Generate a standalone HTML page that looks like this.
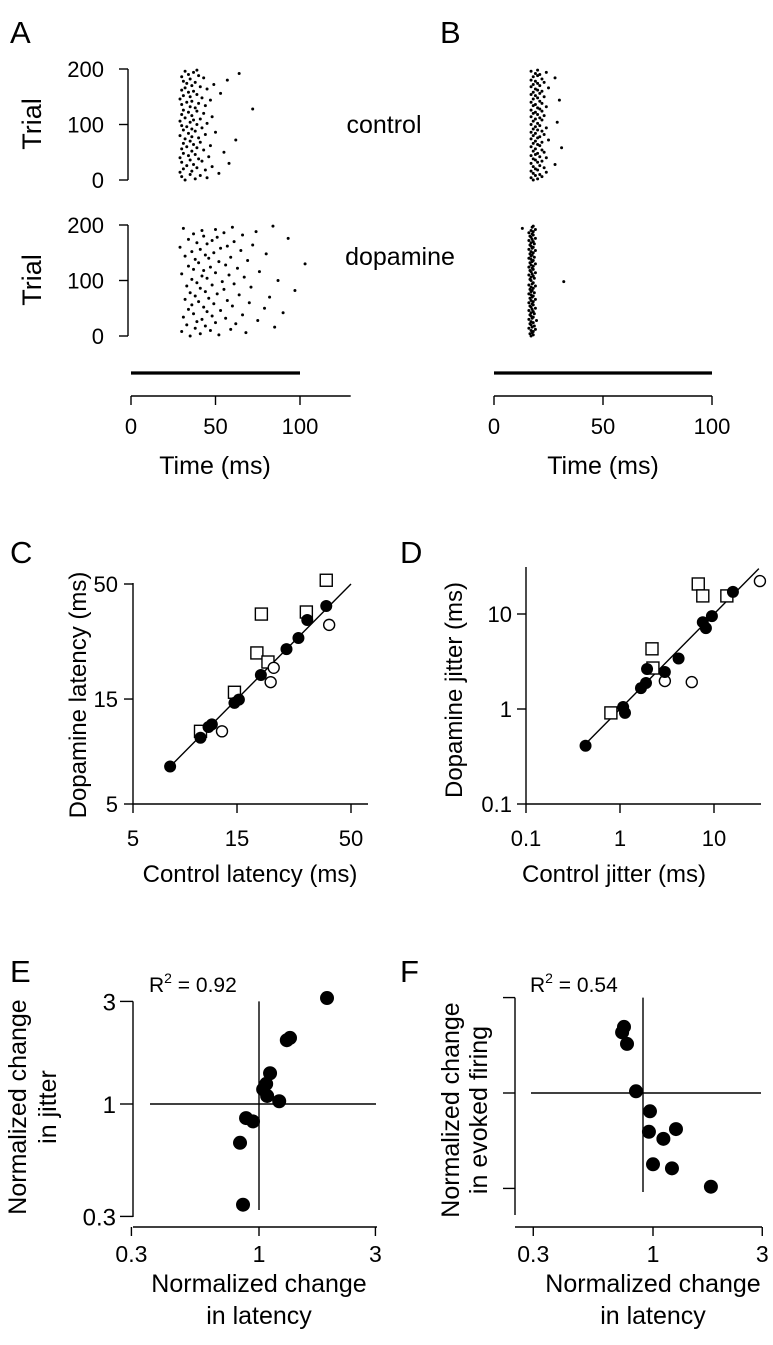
<!DOCTYPE html>
<html><head><meta charset="utf-8"><style>
html,body{margin:0;padding:0;background:#fff}
svg{display:block;font-family:"Liberation Sans",Arial,sans-serif}
</style></head><body>
<svg id="fig" width="773" height="1345" viewBox="0 0 773 1345" xmlns="http://www.w3.org/2000/svg">
<g id="static" fill="#000">
<text x="10" y="43" font-size="31">A</text>
<text x="440" y="43" font-size="31">B</text>
<text x="10" y="563" font-size="31">C</text>
<text x="400" y="563" font-size="31">D</text>
<text x="10" y="982" font-size="31">E</text>
<text x="400" y="982" font-size="31">F</text>
<text x="384" y="133" font-size="25" text-anchor="middle">control</text>
<text x="400" y="265" font-size="25" text-anchor="middle">dopamine</text>
<text transform="translate(41,124) rotate(-90)" font-size="27" text-anchor="middle">Trial</text>
<text transform="translate(41,280) rotate(-90)" font-size="27" text-anchor="middle">Trial</text>
<text x="215" y="474" font-size="25" text-anchor="middle">Time (ms)</text>
<text x="603" y="474" font-size="25" text-anchor="middle">Time (ms)</text>
<text transform="translate(86,695) rotate(-90)" font-size="24" text-anchor="middle">Dopamine latency (ms)</text>
<text x="250" y="882" font-size="24" text-anchor="middle">Control latency (ms)</text>
<text transform="translate(462,690) rotate(-90)" font-size="24" text-anchor="middle">Dopamine jitter (ms)</text>
<text x="614" y="882" font-size="24" text-anchor="middle">Control jitter (ms)</text>
<text transform="translate(26,1107) rotate(-90)" font-size="25" text-anchor="middle">Normalized change</text>
<text transform="translate(56,1107) rotate(-90)" font-size="25" text-anchor="middle">in jitter</text>
<text x="259" y="1292" font-size="25" text-anchor="middle">Normalized change</text>
<text x="259" y="1324" font-size="25" text-anchor="middle">in latency</text>
<text transform="translate(459,1110) rotate(-90)" font-size="25" text-anchor="middle">Normalized change</text>
<text transform="translate(487,1110) rotate(-90)" font-size="25" text-anchor="middle">in evoked firing</text>
<text x="653" y="1292" font-size="25" text-anchor="middle">Normalized change</text>
<text x="653" y="1324" font-size="25" text-anchor="middle">in latency</text>
<text x="149" y="992" font-size="21">R<tspan dy="-9" font-size="14">2</tspan><tspan dy="9"> = 0.92</tspan></text>
<text x="530" y="992" font-size="21">R<tspan dy="-9" font-size="14">2</tspan><tspan dy="9"> = 0.54</tspan></text>
</g>
<g id="dyn"></g>
</svg>
<script>
// ---- Raster data (spike times in ms; trial = 2*index) ----
const rasterAControl=[32,38,45,30,41,35,52,29,36,44,31,39,48,33,37,58,30,42,35,40,29,46,34,38,31,55,36,43,30,39,33,47,37,31,41,35,62,32,40,36,29,44,34,50,38,31,36,42,33,30,39,45,35,29,37,41,32,48,36,30,43,34,39,31,72,38,35,44,30,40,33,36,47,29,42,35,31,39,53,34,37,30,45,32,41,36,49,33,38,31,57,35,43,30,40,34,64,37,32,39];
const rasterADopamine=[35,52,41,68,30,47,59,38,85,44,33,62,50,39,75,42,56,31,48,66,37,90,45,53,34,79,43,60,36,49,70,40,57,32,46,82,38,64,51,35,44,97,55,41,71,33,48,61,39,54,87,36,45,67,42,58,30,50,76,43,37,63,47,34,56,103,40,52,69,38,46,59,32,44,80,49,36,65,41,53,29,57,72,45,39,61,48,34,93,51,43,66,37,55,74,42,50,31,60,84];
const rasterBControl=[18,20,17,22,19,21,18,24,17,20,19,23,18,21,28,17,20,22,19,18,24,21,17,19,20,23,18,22,19,31,17,21,20,18,22,19,25,17,20,21,18,23,19,17,22,20,18,24,19,21,17,20,29,18,22,19,21,17,23,20,18,19,22,17,21,20,24,18,19,22,17,21,30,18,20,23,19,17,21,18,22,20,19,25,17,21,18,20,23,19,17,22,28,18,20,21,19,24,17,20];
const rasterBDopamine=[17,18,16.5,17.5,18,17,19,16,17.5,18.5,17,16.5,18,17,19.5,16,17.5,18,17,16.5,18.5,17,18,16,17.5,19,17,16.5,18,17.5,16,18,17,19,16.5,17.5,18,17,16,18.5,17,17.5,16.5,18,17,19,16,17.5,18,32,17,16.5,18.5,17,18,16,17.5,19,17,16.5,18,17.5,16,18,17,19,16.5,17.5,18,17,16,18.5,17,17.5,16.5,18,17,19,16,17.5,18,17,16.5,18.5,17,18,16,17.5,19,17,16.5,18,17.5,16,18,17,19,13,17.5,18];
const trialTicks=[0,100,200];
const timeTicks=[0,50,100];

// ---- Panel C (control latency, dopamine latency) ----
const cFilledX=[7.4,10.2,11.1,11.5,14.6,15.3,19.3,25.3,28.7,31.5,38.5];
const cFilledY=[7.4,10.0,11.2,11.5,14.4,14.9,19.3,25.3,28.4,34.3,39.7];
const cOpenX=[12.8,22.1,21.4,39.7];
const cOpenY=[10.7,20.8,17.9,32.6];
const cSquareX=[10.2,14.6,19.4,18.5,20.8,31.2,38.5];
const cSquareY=[10.7,16.1,36.5,24.3,22.1,37.3,52];
const cTicks=[5,15,50];

// ---- Panel D (control jitter, dopamine jitter) ----
const dFilledX=[0.43,1.08,1.13,1.67,1.89,1.94,3.0,4.2,7.6,8.2,9.5,15.9];
const dFilledY=[0.41,1.05,0.91,1.66,1.88,2.64,2.45,3.4,8.2,7.1,9.5,17.1];
const dOpenX=[30.8,3.0,5.8];
const dOpenY=[22.2,1.97,1.92];
const dSquareX=[0.80,2.19,2.24,6.8,7.6,13.7];
const dSquareY=[0.91,4.3,2.70,20.7,15.5,15.5];
const dTicks=[0.1,1,10];

// ---- Panel E ----
const eLatency=[1.90,1.34,1.30,1.11,1.07,1.04,1.08,1.21,0.885,0.945,0.836,0.86];
const eJitter=[3.11,2.03,1.98,1.39,1.24,1.17,1.09,1.03,0.86,0.83,0.66,0.34];
const eYTicks=[0.3,1,3];
const xTicksEF=[0.3,1,3];

// ---- Panel F ----
const fLatency=[0.747,0.733,0.77,0.843,0.97,0.96,1.26,1.11,1.0,1.21,1.79];
const fFiring=[2.14,2.01,1.76,1.02,0.81,0.64,0.66,0.59,0.44,0.42,0.34];
const fYTicks=[1/3,1,3];

const NS='http://www.w3.org/2000/svg';
const root=document.getElementById('dyn');
function mk(tag,attrs,parent){const e=document.createElementNS(NS,tag);for(const k in attrs)e.setAttribute(k,attrs[k]);(parent||root).appendChild(e);return e;}
function line(x1,y1,x2,y2,w,name){const e=mk('line',{x1,y1,x2,y2,stroke:'#000','stroke-width':w||1.4});


return e;}
function txt(x,y,s,anchor,size,name){const e=mk('text',{x,y,'font-size':size||22,'text-anchor':anchor||'middle'});e.textContent=s;


return e;}
const lin=(d0,r0,k)=>v=>r0+(v-d0)*k;
const logS=(d0,r0,perDec)=>v=>r0+Math.log10(v/d0)*perDec;

// ===== Rasters =====
function raster(data,xs,y0){
  data.forEach((t,i)=>{const c=mk('circle',{cx:xs(t),cy:y0-0.555*(i*2),r:1.5,fill:'#000'});
  
  });
}
const xA=lin(0,131,1.69), xB=lin(0,494,2.18);
raster(rasterAControl,xA,180); raster(rasterADopamine,xA,336);
raster(rasterBControl,xB,180); raster(rasterBDopamine,xB,336);
[180,336].forEach(y0=>{
  line(128,y0-0.555*200,128,y0,1.4,'trial-axis');
  trialTicks.forEach(t=>{const y=y0-0.555*t;line(119,y,128,y,1.4,'trial-tick');txt(104,y+8,String(t),'end',22,'trial-tick-label');});
});
// stimulus bars & time axes
line(xA(0),373,xA(100),373,3.2,'stimulus-bar-a');
line(xB(0),373,xB(100),373,3.2,'stimulus-bar-b');
line(xA(0),396,xA(130),396,1.4,'time-axis-a');
line(xB(0),396,xB(100),396,1.4,'time-axis-b');
timeTicks.forEach(t=>{line(xA(t),396,xA(t),405,1.4,'time-tick');txt(xA(t),434,String(t),'middle',22,'time-tick-label');
  line(xB(t),396,xB(t),405,1.4,'time-tick');txt(xB(t),434,String(t),'middle',22,'time-tick-label');});

// ===== Scatter helpers =====
function filled(x,y,r,name){const c=mk('circle',{cx:x,cy:y,r,fill:'#000'});

}
function open(x,y,r,name){const c=mk('circle',{cx:x,cy:y,r,fill:'#fff',stroke:'#000','stroke-width':1.4});

}
function square(x,y,s,name){const c=mk('rect',{x:x-s/2,y:y-s/2,width:s,height:s,fill:'#fff',stroke:'#000','stroke-width':1.4});

}

// ===== Panel C =====
const cx=logS(5,133,218), cy=logS(5,804,-220);
line(133,cy(50)-1,133,804,1.4,'c-y-axis'); line(133,804,368,804,1.4,'c-x-axis');
cTicks.forEach(t=>{line(124,cy(t),133,cy(t),1.4,'c-y-tick');txt(118,cy(t)+8,String(t),'end',22,'c-y-tick-label');
  line(cx(t),804,cx(t),813,1.4,'c-x-tick');txt(cx(t),846,String(t),'middle',22,'c-x-tick-label');});
line(cx(7.3),cy(7.3),cx(50),cy(50),1.4,'c-identity-line');
cSquareX.forEach((v,i)=>square(cx(v),cy(cSquareY[i]),12,'c-square-point'));
cOpenX.forEach((v,i)=>open(cx(v),cy(cOpenY[i]),5.5,'c-open-point'));
cFilledX.forEach((v,i)=>filled(cx(v),cy(cFilledY[i]),6,'c-filled-point'));

// ===== Panel D =====
const dx=logS(1,620,94), dy=logS(1,709,-95);
line(526,567,526,804,1.4,'d-y-axis'); line(526,804,761,804,1.4,'d-x-axis');
dTicks.forEach(t=>{line(517,dy(t),526,dy(t),1.4,'d-y-tick');txt(512,dy(t)+8,String(t),'end',22,'d-y-tick-label');
  line(dx(t),804,dx(t),813,1.4,'d-x-tick');txt(dx(t),846,String(t),'middle',22,'d-x-tick-label');});
line(dx(0.43),dy(0.43),dx(30),dy(30),1.4,'d-identity-line');
dSquareX.forEach((v,i)=>square(dx(v),dy(dSquareY[i]),12,'d-square-point'));
dOpenX.forEach((v,i)=>open(dx(v),dy(dOpenY[i]),5.5,'d-open-point'));
dFilledX.forEach((v,i)=>filled(dx(v),dy(dFilledY[i]),6,'d-filled-point'));

// ===== Panel E =====
const ex=logS(1,259,244), ey=logS(1,1104,-215);
line(133,ey(3),133,1217,1.4,'e-y-axis'); line(133,1227,377,1227,1.4,'e-x-axis');
eYTicks.forEach(t=>{line(120,ey(t),133,ey(t),1.4,'e-y-tick');txt(116,ey(t)+9,String(t),'end',24,'e-y-tick-label');});
xTicksEF.forEach(t=>{line(ex(t),1227,ex(t),1236,1.4,'e-x-tick');txt(ex(t),1262,String(t),'middle',23,'e-x-tick-label');});
line(ex(1),ey(3),ex(1),1210,1.4,'e-vertical-reference'); line(150,ey(1),376,ey(1),1.4,'e-horizontal-reference');
eLatency.forEach((v,i)=>filled(ex(v),ey(eJitter[i]),7,'e-point'));

// ===== Panel F =====
const fx=logS(1,653,229), fy=logS(1,1093,-200);
line(515,fy(3),515,1215,1.4,'f-y-axis'); line(515,1227,762,1227,1.4,'f-x-axis');
fYTicks.forEach(t=>{line(503,fy(t),515,fy(t),1.4,'f-y-tick');});
xTicksEF.forEach(t=>{line(fx(t),1227,fx(t),1236,1.4,'f-x-tick');txt(fx(t),1262,String(t),'middle',23,'f-x-tick-label');});
line(643,fy(3),643,1192,1.4,'f-vertical-reference'); line(531,fy(1),761,fy(1),1.4,'f-horizontal-reference');
fLatency.forEach((v,i)=>filled(fx(v),fy(fFiring[i]),7,'f-point'));
</script>
</body></html>
